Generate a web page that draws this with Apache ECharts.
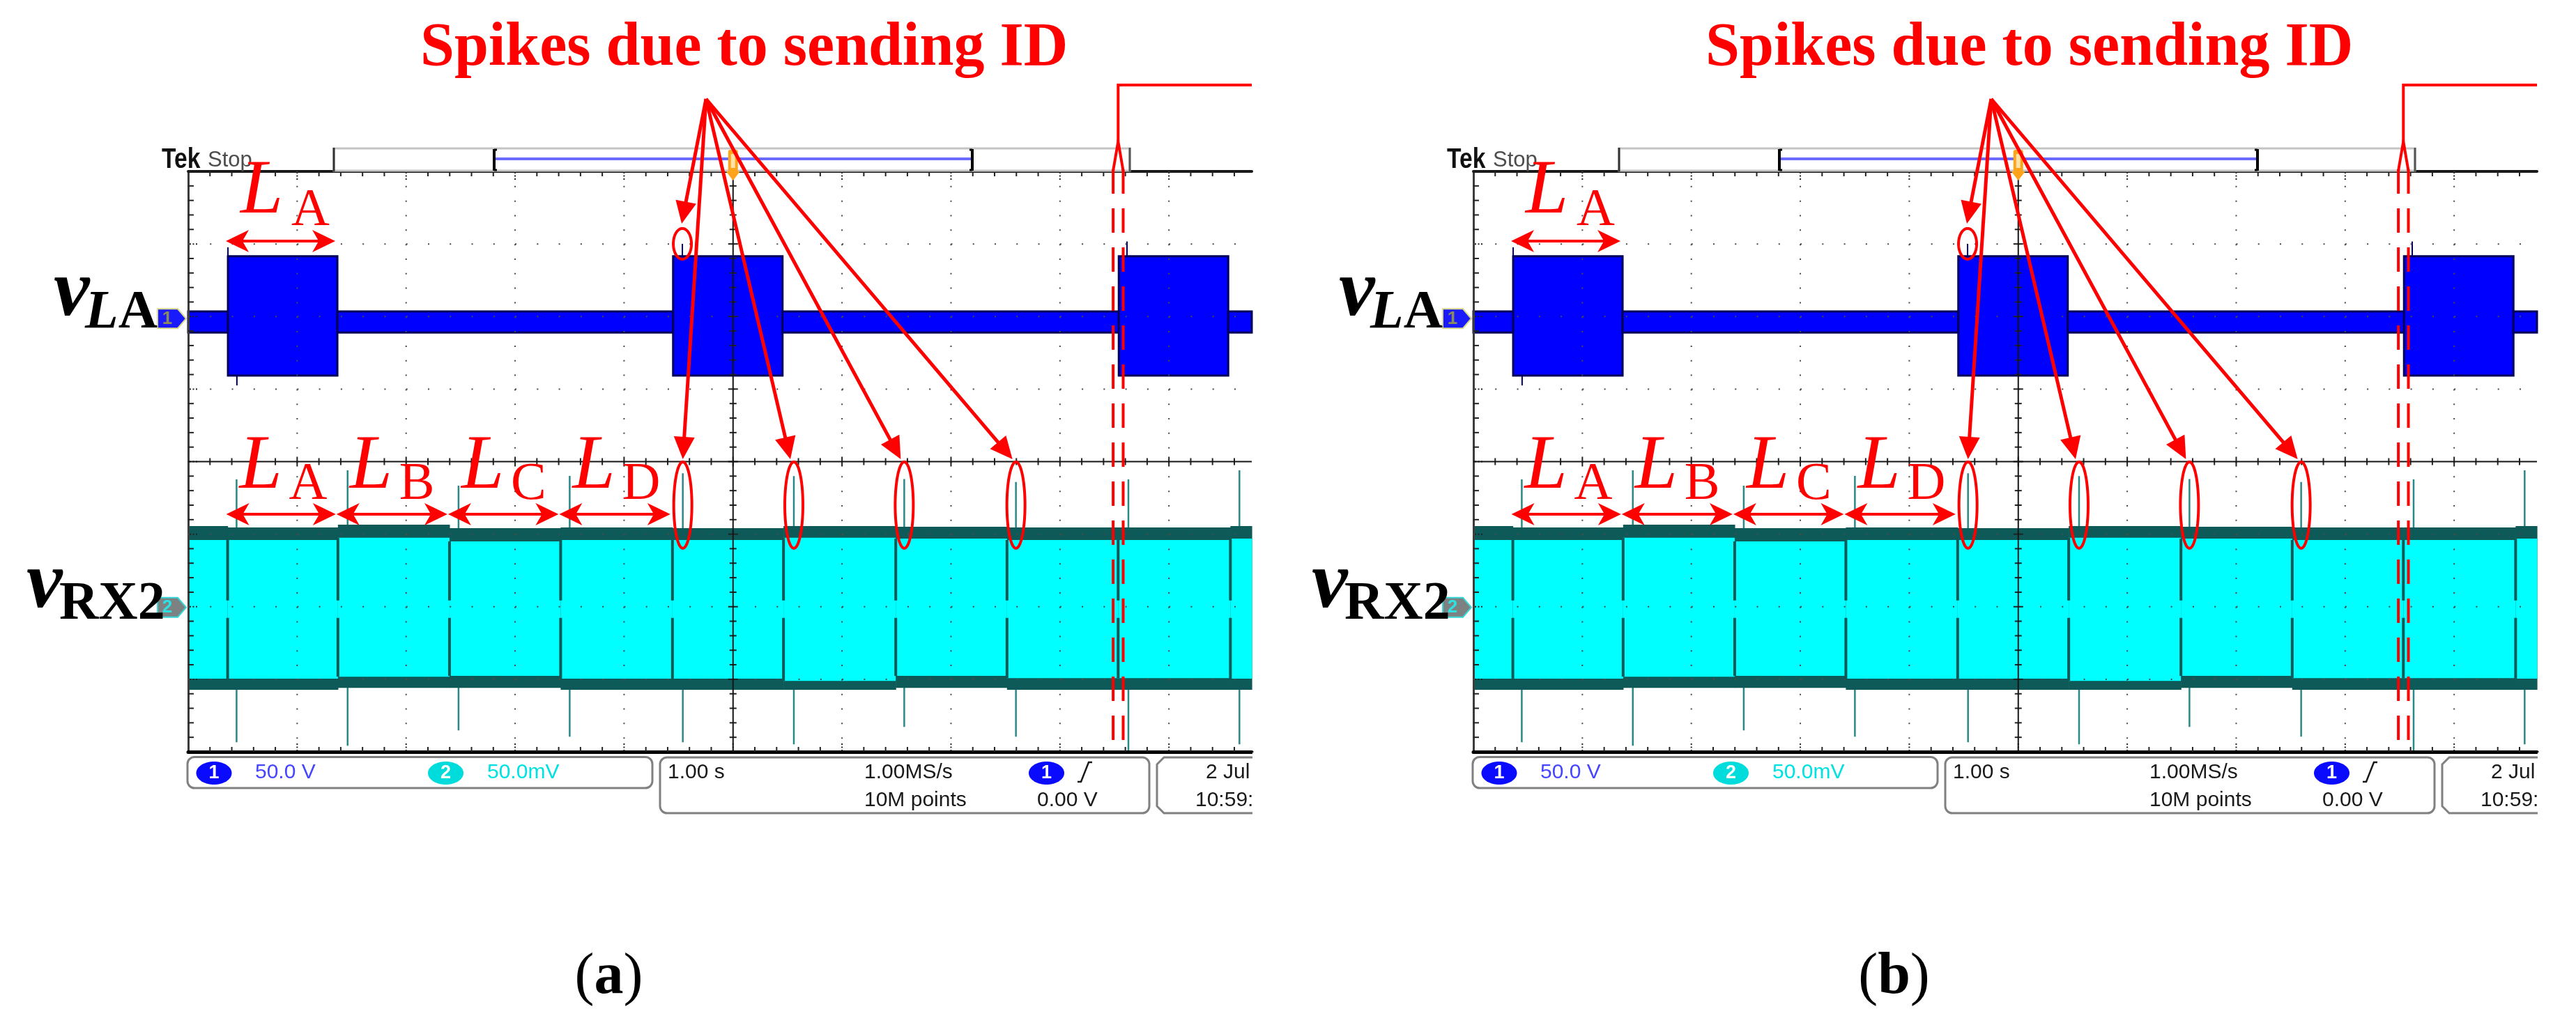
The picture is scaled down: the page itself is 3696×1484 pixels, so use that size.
<!DOCTYPE html>
<html>
<head>
<meta charset="utf-8">
<script src="https://cdn.jsdelivr.net/npm/echarts@6.0.0/dist/echarts.min.js"></script>
<style>
html,body{margin:0;padding:0;background:#ffffff;}
#chart{width:3696px;height:1484px;}
</style>
</head>
<body>
<div id="chart"></div>
<script>
// ================= DATA (read from the two oscilloscope captures) =================
// Time axis: 1.00 s/div, 0 s at the trigger (screen centre); right part of the screen is cropped.
const timeWindow = [-5, 4.76];
const panelCaptions = ['(a)', '(b)'];

// Channel 1, v_LA: 50.0 V/div, trace marker at +2 div.  Envelope segments [start s, end s, top V, bottom V]
const ch1Range = [-300, 100];
const ch1Segments = [
  [-5.000, -4.635, 3.5, -11.0],
  [-4.635, -3.631, 41.5, -40.7],
  [-3.631, -0.550, 3.5, -11.0],
  [-0.550, 0.454, 41.5, -40.7],
  [0.454, 3.540, 3.5, -11.0],
  [3.540, 4.544, 41.5, -40.7],
  [4.544, 4.760, 3.5, -11.0]
];
const ch1SpikeTimes = [-4.635, -4.553, -0.465, 3.615];
const ch1SpikeValues = [47.7, -47.5, 50.1, 51.7];

// Channel 2, v_RX2: 50.0 mV/div, trace marker at -2 div.
const ch2Range = [-100, 300];
const ch2Boundaries = [-4.638, -3.626, -2.602, -1.582, -0.556, 0.463, 1.493, 2.514, 3.534, 4.564];
const ch2OuterTop    = [55.6, 54.6, 56.5, 54.1, 54.6, 54.1, 55.6, 55.1, 54.6, 54.6, 55.6];
const ch2InnerTop    = [46.0, 46.0, 47.5, 45.0, 46.0, 46.0, 47.5, 46.9, 46.0, 46.0, 46.9];
const ch2InnerBottom = [-49.6, -49.6, -48.2, -47.7, -49.6, -49.6, -51.1, -47.7, -49.2, -49.2, -49.6];
const ch2OuterBottom = [-57.3, -57.3, -55.9, -55.9, -57.3, -57.3, -57.3, -55.9, -57.3, -57.3, -57.3];
const ch2NotchGap = [4.3, -7.7];
const ch2SpikeTimes   = [-4.556, -3.537, -2.519, -1.499, -0.461, 0.558, 1.571, 2.596, 3.628, 4.647];
const ch2SpikeTops    = [87.8, 94.0, 83.4, 90.2, 92.0, 90.0, 88.0, 86.0, 87.8, 94.0];
const ch2SpikeBottoms = [-93.4, -95.8, -85.2, -89.5, -93.4, -94.8, -82.8, -89.5, -99.2, -94.8];

// Annotation references
const slotNames = ['A', 'B', 'C', 'D'];
const labelledBurst = 1;
const circledCh1Spike = 2;
const circledCh2Spikes = [4, 5, 6, 7];
const markedBoundary = 8;
const titleText = 'Spikes due to sending ID';

// Scope readout
const readCh1 = '50.0 V', readCh2 = '50.0mV', readTime = '1.00 s', readRate = '1.00MS/s',
      readPoints = '10M points', readTrig = '0.00 V', readDate = '2 Jul', readClock = '10:59:';

// ================= LAYOUT / STYLE =================
const GRID_LEFT = [270, 2114], GRID_TOP = 246, GRID_W = 1526, GRID_H = 833;
const RED = '#ff0000', BLUE = '#0000ff', NAVY = '#00005a', CYAN = '#00ffff',
      TEAL = '#0d5a58', SPIKE = '#2a8888', GRAT = '#4a4a4a';
const SERIF = '"Liberation Serif", "Times New Roman", serif';
const SANS = '"Liberation Sans", Arial, sans-serif';
const NARROW = '"Liberation Sans Narrow", "Liberation Sans", Arial, sans-serif';

// ================= derived series data =================
const segStarts = [timeWindow[0]].concat(ch2Boundaries);
const segEnds = ch2Boundaries.concat([timeWindow[1]]);
const ch2BandData = segStarts.map((t0, i) => [t0, segEnds[i], ch2OuterTop[i], ch2InnerTop[i], ch2InnerBottom[i], ch2OuterBottom[i]]);
const ch2NotchData = ch2Boundaries.map((t, i) => [t, ch2InnerTop[i + 1], ch2InnerBottom[i + 1]]);
const ch2SpikeData = ch2SpikeTimes.map((t, i) => [t, ch2SpikeTops[i], ch2SpikeBottoms[i]]);
const ch1SpikeData = ch1SpikeTimes.map((t, i) => [t, ch1SpikeValues[i]]);

// ================= render functions =================
function lineEl(x1, y1, x2, y2, stroke, w, dash) {
  return {type: 'line', shape: {x1: x1, y1: y1, x2: x2, y2: y2}, style: {stroke: stroke, lineWidth: w, lineDash: dash || null}};
}
function renderGraticule(params, api) {
  const ch = [];
  const t0 = timeWindow[0], t1 = timeWindow[1];
  const L = api.coord([t0, 0])[0], R = api.coord([t1, 0])[0];
  const T = api.coord([0, ch1Range[1]])[1], B = api.coord([0, ch1Range[0]])[1];
  const cY = api.coord([0, (ch1Range[0] + ch1Range[1]) / 2])[1];
  const cX = api.coord([0, 0])[0];
  const stepX = api.coord([0.2, 0])[0] - api.coord([0, 0])[0];
  const stepY = api.coord([0, 0])[1] - api.coord([0, 10])[1];
  for (let k = Math.ceil(t0 / 0.2 - 1e-6); k * 0.2 <= t1 + 1e-6; k++) {
    const x = api.coord([k * 0.2, 0])[0];
    const major = (k % 5 === 0);
    if (major && k !== 0 && x - L > 2) ch.push(lineEl(x, T, x, B, GRAT, 2, [2, stepY - 2]));
    if (x - L > 2) {
      if (major) {
        ch.push(lineEl(x, T + 1, x, T + 13, '#222', 2, [2, 2.5]));
        ch.push(lineEl(x, B - 1, x, B - 13, '#222', 2, [2, 2.5]));
      } else {
        ch.push(lineEl(x, T, x, T + 7, '#222', 2));
        ch.push(lineEl(x, B, x, B - 7, '#222', 2));
      }
      ch.push(lineEl(x, cY - (major ? 7 : 5), x, cY + (major ? 7 : 5), '#222', 2));
    }
  }
  for (let j = -19; j <= 19; j++) {
    const y = api.coord([0, (ch1Range[0] + ch1Range[1]) / 2 + j * 10])[1];
    const major = (j % 5 === 0);
    if (major && j !== 0) ch.push(lineEl(L, y, R, y, GRAT, 2, [2, stepX - 2]));
    if (major) ch.push(lineEl(L + 2, y, L + 14, y, '#222', 2, [2, 2.5]));
    else ch.push(lineEl(L, y, L + 8, y, '#222', 2));
    ch.push(lineEl(cX - (major ? 7 : 5), y, cX + (major ? 7 : 5), y, '#222', 2));
  }
  ch.push(lineEl(L, cY, R, cY, '#151515', 2));
  ch.push(lineEl(cX, T + 12, cX, B, '#151515', 2));
  return {type: 'group', children: ch};
}
function renderCh1(params, api) {
  const a = api.coord([api.value(0), api.value(2)]);
  const b = api.coord([api.value(1), api.value(3)]);
  return {type: 'rect', shape: {x: a[0], y: a[1], width: b[0] - a[0], height: b[1] - a[1]},
          style: {fill: BLUE, stroke: NAVY, lineWidth: 3}};
}
function renderCh1Spike(params, api) {
  const a = api.coord([api.value(0), api.value(1)]), b = api.coord([api.value(0), 0]);
  return lineEl(a[0], a[1], b[0], b[1], NAVY, 2);
}
function renderCh2Band(params, api) {
  const t0 = api.value(0), t1 = api.value(1);
  const o1 = api.coord([t0, api.value(2)]), o2 = api.coord([t1, api.value(5)]);
  const i1 = api.coord([t0, api.value(3)]), i2 = api.coord([t1, api.value(4)]);
  return {type: 'group', children: [
    {type: 'rect', shape: {x: o1[0], y: o1[1], width: o2[0] - o1[0] + 0.6, height: o2[1] - o1[1]}, style: {fill: TEAL}},
    {type: 'rect', shape: {x: i1[0], y: i1[1], width: i2[0] - i1[0] + 0.6, height: i2[1] - i1[1]}, style: {fill: CYAN}}
  ]};
}
function renderCh2Notch(params, api) {
  const t = api.value(0);
  const a = api.coord([t, api.value(1)]), g1 = api.coord([t, ch2NotchGap[0]]);
  const g2 = api.coord([t, ch2NotchGap[1]]), b = api.coord([t, api.value(2)]);
  return {type: 'group', children: [lineEl(a[0], a[1], g1[0], g1[1], TEAL, 4), lineEl(g2[0], g2[1], b[0], b[1], TEAL, 4)]};
}
function renderCh2Spike(params, api) {
  const a = api.coord([api.value(0), api.value(1)]), b = api.coord([api.value(0), api.value(2)]);
  return lineEl(a[0], a[1], b[0], b[1], SPIKE, 2.5);
}

// ================= option =================
const grids = [], xAxes = [], yAxes = [], series = [];
GRID_LEFT.forEach(function (gl, p) {
  grids.push({left: gl, top: GRID_TOP, width: GRID_W, height: GRID_H, outerBoundsMode: 'none', containLabel: false});
  const base = {type: 'value', gridIndex: p, min: timeWindow[0], max: timeWindow[1], interval: 1, z: 4,
    axisTick: {show: false}, axisLabel: {show: false}, splitLine: {show: false}};
  xAxes.push(Object.assign({}, base, {position: 'bottom', axisLine: {show: true, onZero: false, lineStyle: {color: '#000', width: 5}}}));
  xAxes.push(Object.assign({}, base, {position: 'top', axisLine: {show: true, onZero: false, lineStyle: {color: '#1a1a1a', width: 4}}}));
  yAxes.push({type: 'value', gridIndex: p, position: 'left', min: ch1Range[0], max: ch1Range[1], interval: 50, z: 4,
    axisLine: {show: true, onZero: false, lineStyle: {color: '#3c3c3c', width: 3}},
    axisTick: {show: false}, axisLabel: {show: false}, splitLine: {show: false}});
  yAxes.push({type: 'value', gridIndex: p, position: 'right', min: ch2Range[0], max: ch2Range[1], interval: 50, show: false,
    axisLine: {show: false, onZero: false}, splitLine: {show: false}});
  const xi = p * 2, y1 = p * 2, y2 = p * 2 + 1;
  series.push({type: 'custom', name: 'vRX2 spikes', xAxisIndex: xi, yAxisIndex: y2, z: 1, silent: true,
    encode: {x: 0, y: [1, 2]}, data: ch2SpikeData, renderItem: renderCh2Spike});
  series.push({type: 'custom', name: 'vRX2', xAxisIndex: xi, yAxisIndex: y2, z: 2, silent: true,
    encode: {x: [0, 1], y: [2, 3, 4, 5]}, data: ch2BandData, renderItem: renderCh2Band});
  series.push({type: 'custom', name: 'vRX2 notches', xAxisIndex: xi, yAxisIndex: y2, z: 3, silent: true,
    encode: {x: 0, y: [1, 2]}, data: ch2NotchData, renderItem: renderCh2Notch});
  series.push({type: 'custom', name: 'vLA spikes', xAxisIndex: xi, yAxisIndex: y1, z: 1, silent: true,
    encode: {x: 0, y: 1}, data: ch1SpikeData, renderItem: renderCh1Spike});
  series.push({type: 'custom', name: 'vLA', xAxisIndex: xi, yAxisIndex: y1, z: 2, silent: true,
    encode: {x: [0, 1], y: [2, 3]}, data: ch1Segments, renderItem: renderCh1});
  series.push({type: 'custom', name: 'graticule', xAxisIndex: xi, yAxisIndex: y1, z: 5, silent: true,
    data: [[0, 0]], renderItem: renderGraticule});
});

const chart = echarts.init(document.getElementById('chart'), null, {renderer: 'canvas', width: 3696, height: 1484});
chart.setOption({animation: false, backgroundColor: '#ffffff', grid: grids, xAxis: xAxes, yAxis: yAxes, series: series});

// ================= annotations / decorations =================
function L(x1, y1, x2, y2, stroke, w, dash, z) {
  return {type: 'line', z: z || 50, silent: true, shape: {x1: x1, y1: y1, x2: x2, y2: y2}, style: {stroke: stroke, lineWidth: w, lineDash: dash || null}};
}
function Tx(x, base, text, size, o) {
  o = o || {};
  const st = {text: text, fontSize: size, fontFamily: o.family || SERIF, fontWeight: o.weight || 'normal',
    fontStyle: o.style || 'normal', fill: o.fill || '#000', align: o.align || 'left', verticalAlign: 'middle',
    textAlign: o.align || 'left', textVerticalAlign: 'middle'};
  if (o.rich) st.rich = o.rich;
  const el = {type: 'text', z: o.z || 55, silent: true, x: x, y: base - 0.3375 * size, style: st};
  if (o.scaleX) el.scaleX = o.scaleX;
  return el;
}
function ellipse(cx, cy, rx, ry, w, fill, stroke, z) {
  const pts = [];
  for (let i = 0; i < 72; i++) { const a = i / 72 * Math.PI * 2; pts.push([cx + rx * Math.cos(a), cy + ry * Math.sin(a)]); }
  return {type: 'polygon', z: z || 50, silent: true, shape: {points: pts},
    style: {fill: fill || 'none', stroke: stroke || RED, lineWidth: w}};
}
function arrow(from, tip, w, len, half) {
  const dx = tip[0] - from[0], dy = tip[1] - from[1], d = Math.hypot(dx, dy);
  const ux = dx / d, uy = dy / d, px = -uy, py = ux;
  const bx = tip[0] - ux * len, by = tip[1] - uy * len;
  return [L(from[0], from[1], tip[0] - ux * len * 0.6, tip[1] - uy * len * 0.6, RED, w),
    {type: 'polygon', z: 51, silent: true, shape: {points: [[tip[0], tip[1]], [bx + px * half, by + py * half], [bx - px * half, by - py * half]]}, style: {fill: RED}}];
}
function dblArrow(x1, x2, y, w, len, half) {
  const head = function (tx, dir) {
    return {type: 'polygon', z: 51, silent: true, shape: {points: [[tx, y], [tx + dir * len, y - half], [tx + dir * len * 0.72, y], [tx + dir * len, y + half]]}, style: {fill: RED}};
  };
  return [L(x1 + len * 0.5, y, x2 - len * 0.5, y, RED, w), head(x1, 1), head(x2, -1)];
}
function roundBox(x, y, w, h) {
  return {type: 'rect', z: 40, silent: true, shape: {x: x, y: y, width: w, height: h, r: 10}, style: {fill: '#fff', stroke: '#808080', lineWidth: 3}};
}
function badge(cx, cy, fill, label) {
  return [ellipse(cx, cy, 25.5, 16.5, 0, fill, fill, 41),
    Tx(cx, cy + 9.5, label, 27, {family: SANS, fill: '#ffffff', align: 'center', weight: 'bold', z: 42})];
}

const G = [];
GRID_LEFT.forEach(function (gl, p) {
  const P1 = function (t, v) { return chart.convertToPixel({xAxisIndex: 2 * p, yAxisIndex: 2 * p}, [t, v]); };
  const P2 = function (t, v) { return chart.convertToPixel({xAxisIndex: 2 * p, yAxisIndex: 2 * p + 1}, [t, v]); };
  const gridRight = P1(timeWindow[1], 0)[0];
  const gridBottom = P1(0, ch1Range[0])[1];
  const xc = P1(0, 0)[0];

  // --- record bar, Tek Stop, trigger marker ---
  G.push({type: 'rect', z: 40, silent: true, shape: {x: gl + 209, y: 213, width: 1142, height: 32}, style: {fill: '#fff', stroke: '#c4c4c4', lineWidth: 3}});
  G.push(L(gl + 209, 212, gl + 209, 246, '#333', 3, null, 41));
  G.push(L(gl + 1351, 212, gl + 1351, 246, '#555', 3, null, 41));
  G.push(L(gl + 439, 228, gl + 1125, 228, '#6a6aff', 4, null, 41));
  [[gl + 439, 1], [gl + 1125, -1]].forEach(function (b) {
    G.push(L(b[0], 214, b[0], 245, '#000', 4, null, 42));
    G.push(L(b[0], 215, b[0] + 4 * b[1], 215, '#000', 3, null, 42));
    G.push(L(b[0], 244, b[0] + 4 * b[1], 244, '#000', 3, null, 42));
  });
  G.push(Tx(gl - 38, 243, 'Tek', 40, {family: NARROW, weight: 'bold', fill: '#111', scaleX: 0.84}));
  G.push(Tx(gl + 28, 241, 'Stop', 31, {family: NARROW, fill: '#4d4d4d'}));
  G.push({type: 'rect', z: 43, silent: true, shape: {x: xc - 7, y: 215, width: 14, height: 32, r: 3}, style: {fill: '#ffa31a'}});
  G.push({type: 'polygon', z: 43, silent: true, shape: {points: [[xc - 10, 246], [xc + 10, 246], [xc, 259]]}, style: {fill: '#ffa31a'}});
  G.push({type: 'rect', z: 44, silent: true, shape: {x: xc - 3, y: 221, width: 6, height: 20}, style: {fill: '#ffe2a8'}});

  // --- channel markers ---
  const m1 = P1(timeWindow[0], 0)[1] + 3, m2 = P2(timeWindow[0], 0)[1] + 1;
  G.push({type: 'polygon', z: 45, silent: true, shape: {points: [[gl - 44, m1 - 14], [gl - 15, m1 - 14], [gl - 3, m1], [gl - 15, m1 + 14], [gl - 44, m1 + 14]]}, style: {fill: '#1a1aff', stroke: '#d9d98c', lineWidth: 2}});
  G.push(Tx(gl - 30, m1 + 9, '1', 26, {family: SANS, fill: '#8c8c5a', align: 'center', weight: 'bold', z: 46}));
  G.push({type: 'polygon', z: 45, silent: true, shape: {points: [[gl - 44, m2 - 14], [gl - 15, m2 - 14], [gl - 3, m2], [gl - 15, m2 + 14], [gl - 44, m2 + 14]]}, style: {fill: '#7c8282', stroke: '#36d6d6', lineWidth: 2}});
  G.push(Tx(gl - 30, m2 + 9, '2', 26, {family: SANS, fill: '#30e0e0', align: 'center', weight: 'bold', z: 46}));

  // --- trace names ---
  G.push(Tx(gl - 193, 460.7, 'v', 116, {style: 'italic', weight: 'bold'}));
  G.push(Tx(gl - 148, 476, '{i|L}{n|A}', 78, {weight: 'bold', rich: {
    i: {fontStyle: 'italic', fontWeight: 'bold', fontSize: 78, fontFamily: SERIF, fill: '#000'},
    n: {fontWeight: 'bold', fontSize: 78, fontFamily: SERIF, fill: '#000'}}}));
  G.push(Tx(gl - 232, 880, 'v', 116, {style: 'italic', weight: 'bold'}));
  G.push(Tx(gl - 185, 894, 'RX2', 78, {weight: 'bold'}));

  // --- readout boxes ---
  G.push(roundBox(gl - 1, 1086.5, 667, 44.5));
  badge(gl + 37, 1109.5, '#0a0aff', '1').forEach(function (e) { G.push(e); });
  G.push(Tx(gl + 96, 1119, readCh1, 30, {family: SANS, fill: '#4646ff', z: 42}));
  badge(gl + 369.5, 1109.5, '#00dcdc', '2').forEach(function (e) { G.push(e); });
  G.push(Tx(gl + 429, 1119, readCh2, 30, {family: SANS, fill: '#00e2e2', z: 42}));
  G.push(roundBox(gl + 677, 1087, 702, 80));
  G.push(Tx(gl + 688, 1119, readTime, 30, {family: SANS, fill: '#1a1a1a', z: 42}));
  G.push(Tx(gl + 970, 1119, readRate, 30, {family: SANS, fill: '#1a1a1a', z: 42}));
  G.push(Tx(gl + 970, 1159, readPoints, 30, {family: SANS, fill: '#1a1a1a', z: 42}));
  badge(gl + 1231.5, 1109.5, '#0a0aff', '1').forEach(function (e) { G.push(e); });
  G.push({type: 'polyline', z: 42, silent: true, shape: {points: [[gl + 1276, 1122], [gl + 1281, 1122], [gl + 1292, 1094], [gl + 1297, 1094]]}, style: {stroke: '#1a1a1a', lineWidth: 2.5, fill: 'none'}});
  G.push(Tx(gl + 1218, 1159, readTrig, 30, {family: SANS, fill: '#1a1a1a', z: 42}));
  G.push({type: 'polyline', z: 40, silent: true, shape: {points: [[gridRight + 2, 1087], [gl + 1400, 1087], [gl + 1390, 1097], [gl + 1390, 1157], [gl + 1400, 1167], [gridRight + 2, 1167]]}, style: {stroke: '#808080', lineWidth: 3, fill: 'none'}});
  G.push(Tx(gl + 1460, 1119, readDate, 30, {family: SANS, fill: '#1a1a1a', z: 42}));
  G.push(Tx(gl + 1445, 1159, readClock, 30, {family: SANS, fill: '#1a1a1a', z: 42}));
  G.push({type: 'rect', z: 47, silent: true, shape: {x: gridRight + 1, y: 1080, width: 60, height: 100}, style: {fill: '#ffffff'}});

  // --- caption ---
  const cap = panelCaptions[p];
  G.push(Tx(gl + 603.5, 1432, '{p|' + cap.charAt(0) + '}{b|' + cap.charAt(1) + '}{p|' + cap.charAt(2) + '}', 84, {align: 'center', rich: {
    p: {fontSize: 84, fontFamily: SERIF, fill: '#000'},
    b: {fontSize: 84, fontFamily: SERIF, fontWeight: 'bold', fill: '#000'}}}));

  // --- red annotations ---
  G.push(Tx(gl + 333, 100, titleText, 88, {weight: 'bold', fill: RED, z: 56}));
  const apex = [gl + 743, 142];
  const s = P1(ch1SpikeTimes[circledCh1Spike], ch1SpikeValues[circledCh1Spike]);
  G.push(ellipse(s[0], s[1], 13, 22, 4));
  arrow(apex, [s[0] - 1, s[1] - 29], 5, 32, 15).forEach(function (e) { G.push(e); });
  circledCh2Spikes.forEach(function (i) {
    const x = P2(ch2SpikeTimes[i], 0)[0];
    const cy = P2(0, 70)[1], ry = 62;
    G.push(ellipse(x, cy, 13, ry, 4));
    arrow(apex, [x - (x - apex[0] > 60 ? 5 : 0), cy - ry - 4], 5, 32, 15).forEach(function (e) { G.push(e); });
  });

  // L_A over the first burst of v_LA
  const ua1 = P1(ch1Segments[labelledBurst][0], 52), ua2 = P1(ch1Segments[labelledBurst][1], 52);
  dblArrow(ua1[0] - 3, ua2[0] - 3, ua1[1], 4, 33, 16).forEach(function (e) { G.push(e); });
  G.push(Tx(ua1[0] + 18, ua1[1] - 33, 'L', 110, {style: 'italic', fill: RED}));
  G.push(Tx(ua1[0] + 91, ua1[1] - 17, slotNames[0], 76, {fill: RED}));

  // L_A..L_D over v_RX2 slots
  slotNames.forEach(function (nm, i) {
    const a = P2(ch2Boundaries[i], 63.7), b = P2(ch2Boundaries[i + 1], 63.7);
    dblArrow(a[0] - 2, b[0] - 3, a[1], 4, 33, 16).forEach(function (e) { G.push(e); });
    G.push(Tx(a[0] + 17, a[1] - 30, 'L', 110, {style: 'italic', fill: RED}));
    G.push(Tx(a[0] + 88, a[1] - 16, nm, 76, {fill: RED}));
  });

  // double dashed marker at a slot boundary + bracket
  const bt = ch2Boundaries[markedBoundary];
  const xa = P2(bt - 0.046, 0)[0], xb = P2(bt + 0.046, 0)[0], xm = (xa + xb) / 2;
  G.push(L(xa, 243, xa, gridBottom, RED, 4, [35, 21]));
  G.push(L(xb, 243, xb, gridBottom, RED, 4, [35, 21]));
  G.push({type: 'polyline', z: 50, silent: true, shape: {points: [[xa, 245], [xm, 203], [xb, 245]]}, style: {stroke: RED, lineWidth: 4, fill: 'none'}});
  G.push({type: 'polyline', z: 50, silent: true, shape: {points: [[xm, 203], [xm, 122], [gridRight, 122]]}, style: {stroke: RED, lineWidth: 4, fill: 'none'}});
});

chart.setOption({graphic: {elements: G}});
</script>
</body>
</html>
